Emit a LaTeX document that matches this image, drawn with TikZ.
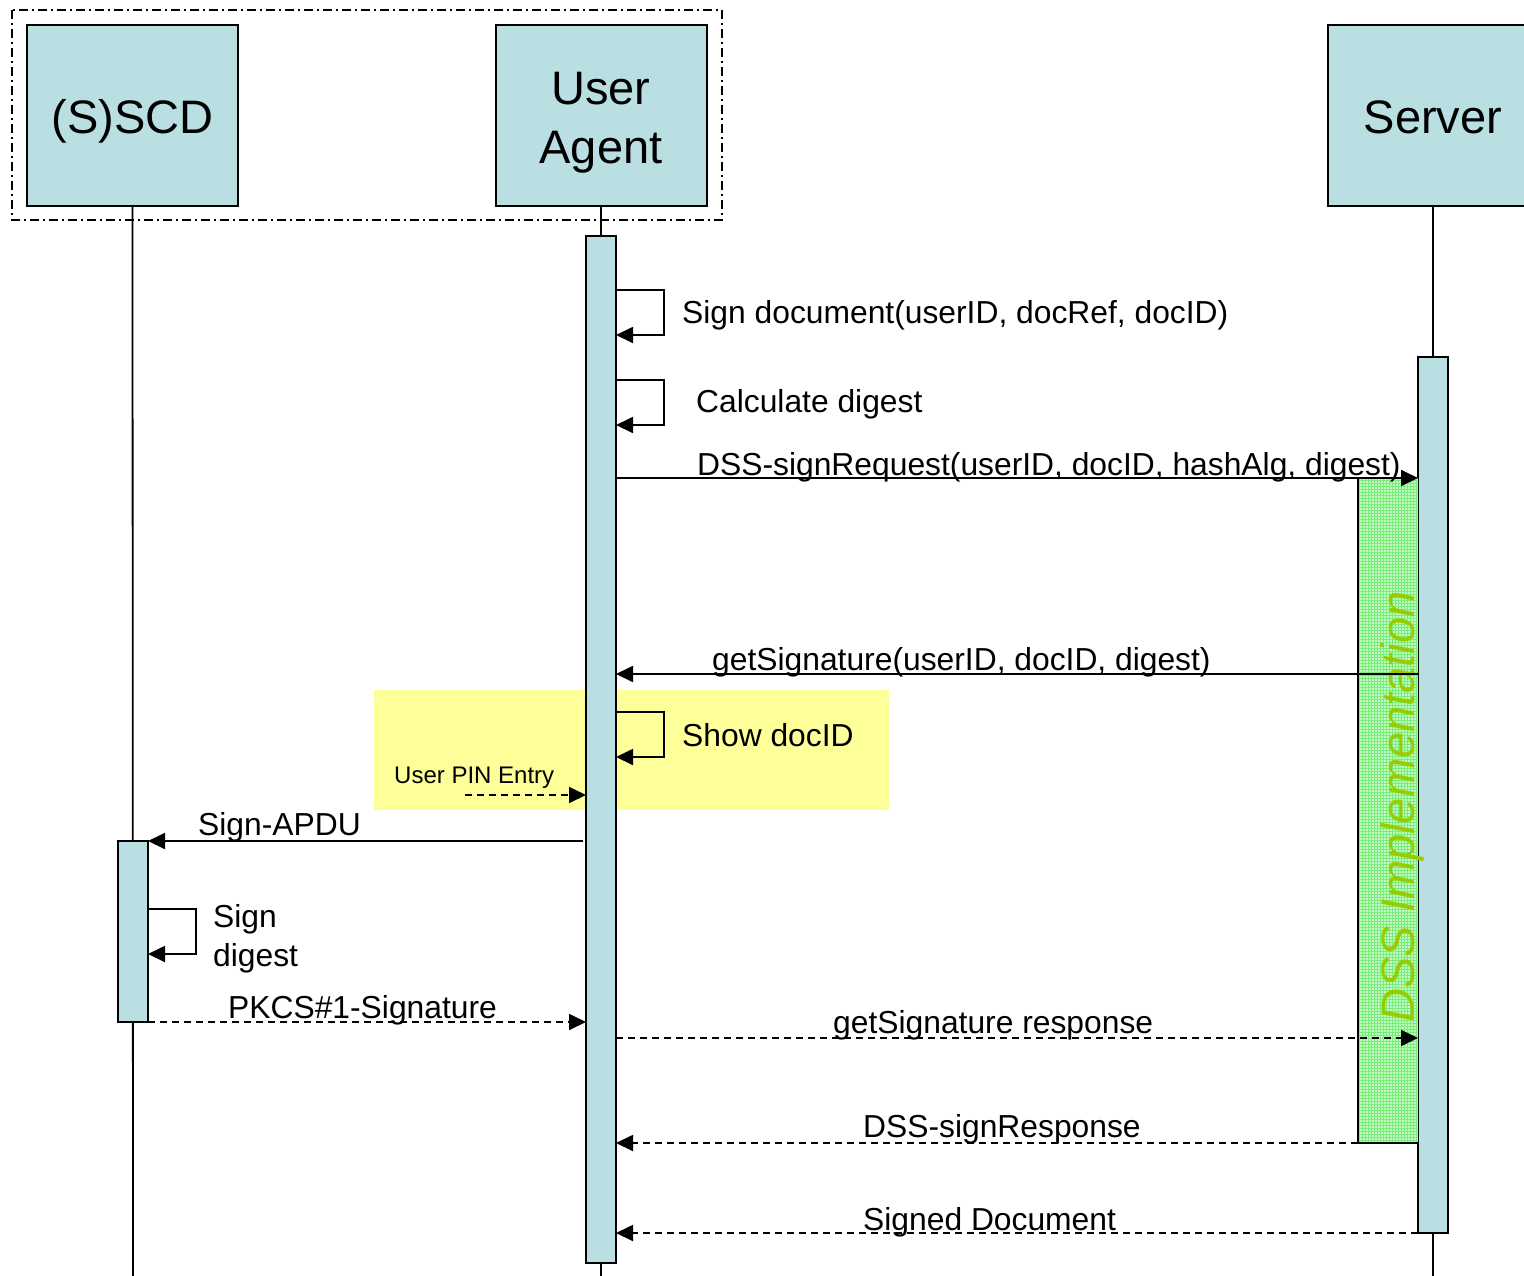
\documentclass[tikz,border=0pt]{standalone}
\usepackage{fontspec}
\setmainfont{Liberation Sans}
\usetikzlibrary{arrows.meta,patterns}

\definecolor{lifebox}{RGB}{185,223,227}
\definecolor{notebg}{RGB}{255,255,153}
\definecolor{implfill}{RGB}{196,250,196}
\definecolor{implgrid}{RGB}{120,238,120}
\definecolor{impltext}{RGB}{153,204,0}

\newcommand\headfont{\fontsize{47}{59}\selectfont}
\newcommand\lblfont{\fontsize{31.8}{39}\selectfont}
\newcommand\smallfont{\fontsize{24}{28}\selectfont}

\begin{document}
\begin{tikzpicture}[x=1pt,y=-1pt,
  head/.style={draw=black,line width=2pt,fill=lifebox,minimum width=211pt,
    minimum height=181pt,inner sep=0pt},
  bar/.style={draw=black,line width=2pt,fill=lifebox,minimum width=30pt,inner sep=0pt,
    outer sep=0pt},
  life/.style={line width=1.8pt},
  msg/.style={line width=1.8pt,-{Triangle[length=17pt,width=16pt]}},
  reply/.style={msg,dash pattern=on 7pt off 5pt},
  selfcall/.style={msg},
  lbl/.style={font=\lblfont,inner sep=0pt,anchor=base west},
  grouping/.style={line width=1.6pt,dash pattern=on 9pt off 4pt on 2pt off 4pt}
]
\useasboundingbox (0,0) rectangle (1524,1275);
\clip (0,0) rectangle (1524,1275);

% client-side grouping of card and user agent
\draw[grouping] (12,10) rectangle (722,220);

% note area around the PIN entry
\node[fill=notebg,minimum width=515pt,minimum height=120pt,inner sep=0pt]
  (pinnote) at (631.5,750) {};

% lifeline heads
\node[head] (scd) at (132.5,115.5) {};
\node[head] (ua)  at (601,115.5) {};
\node[head] (srv) at (1433,115.5) {};
\node[font=\headfont,inner sep=0pt,anchor=base] (scdname) at (132.5,133) {(S)SCD};
\node[font=\headfont,inner sep=0pt,anchor=base,align=center] (uaname) at (601,163) {User\\Agent};
\node[font=\headfont,inner sep=0pt,anchor=base] (srvname) at (1433,133) {Server};

% lifeline ends
\coordinate (scdend) at (133,1280);
\coordinate (uaend)  at (601,1280);
\coordinate (srvend) at (1433,1280);
\draw[life] (scd.south) -- (scdend);
\draw[life] (ua.south)  -- (uaend);
\draw[life] (srv.south) -- (srvend);

% activation bars
\node[bar,minimum height=1027pt] (uabar)  at (601,749.5) {};
\node[bar,minimum height=181pt]  (scdbar) at (133,931.5) {};
\node[bar,minimum height=876pt]  (srvbar) at (1433,795) {};

% DSS implementation region
\node[fill=implfill,minimum width=60pt,minimum height=665pt,inner sep=0pt,outer sep=0pt]
  (dss) at (1388,810.5) {};
\fill[pattern=grid,pattern color=implgrid] (dss.north west) rectangle (dss.south east);
\draw[line width=1.8pt] (dss.north west) -- (dss.south west) -- (dss.south east);
\node[font=\fontsize{47}{56}\selectfont\itshape,text=impltext,rotate=90,inner sep=0pt,
  anchor=base] (dsslbl) at (1414,807) {DSS Implementation};

% self calls on the user agent
\draw[selfcall] (uabar.east |- 0,290) -- (664,290) -- (664,335) -- (uabar.east |- 0,335);
\node[lbl] (l1) at (682,323) {Sign document(userID, docRef, docID)};

\draw[selfcall] (uabar.east |- 0,380) -- (664,380) -- (664,425) -- (uabar.east |- 0,425);
\node[lbl] (l2) at (696,412) {Calculate digest};

% request to the server
\draw[msg] (uabar.east |- 0,478) -- (srvbar.west |- 0,478);
\node[lbl] (l3) at (697,475) {DSS-signRequest(userID, docID, hashAlg, digest)};

\draw[msg] (srvbar.west |- 0,674) -- (uabar.east |- 0,674);
\node[lbl] (l4) at (712,670) {getSignature(userID, docID, digest)};

\draw[selfcall] (uabar.east |- 0,712) -- (664,712) -- (664,757) -- (uabar.east |- 0,757);
\node[lbl] (l5) at (682,746) {Show docID};

% PIN entry
\coordinate (pinstart) at (465,795);
\draw[reply] (pinstart) -- (uabar.west |- pinstart);
\node[font=\smallfont,inner sep=0pt,anchor=base west] (l6) at (394,783) {User PIN Entry};

% card signing
\draw[msg] ([xshift=-3pt]uabar.west |- 0,841) -- (scdbar.east |- 0,841);
\node[lbl] (l7) at (198,835) {Sign-APDU};

\draw[selfcall] (scdbar.east |- 0,909) -- (196,909) -- (196,954) -- (scdbar.east |- 0,954);
\node[lbl] (l8) at (213,927) {Sign};
\node[lbl] (l9) at (213,966) {digest};

\draw[reply] (scdbar.south east) -- (uabar.west |- scdbar.south east);
\node[lbl] (l10) at (228,1018) {PKCS\#1-Signature};

% responses
\draw[reply] (uabar.east |- 0,1038) -- (srvbar.west |- 0,1038);
\node[lbl] (l11) at (833,1033) {getSignature response};

\draw[reply] (srvbar.west |- 0,1143) -- (uabar.east |- 0,1143);
\node[lbl] (l12) at (863,1137) {DSS-signResponse};

\draw[reply] (srvbar.west |- 0,1233) -- (uabar.east |- 0,1233);
\node[lbl] (l13) at (863,1230) {Signed Document};
\end{tikzpicture}
\end{document}
